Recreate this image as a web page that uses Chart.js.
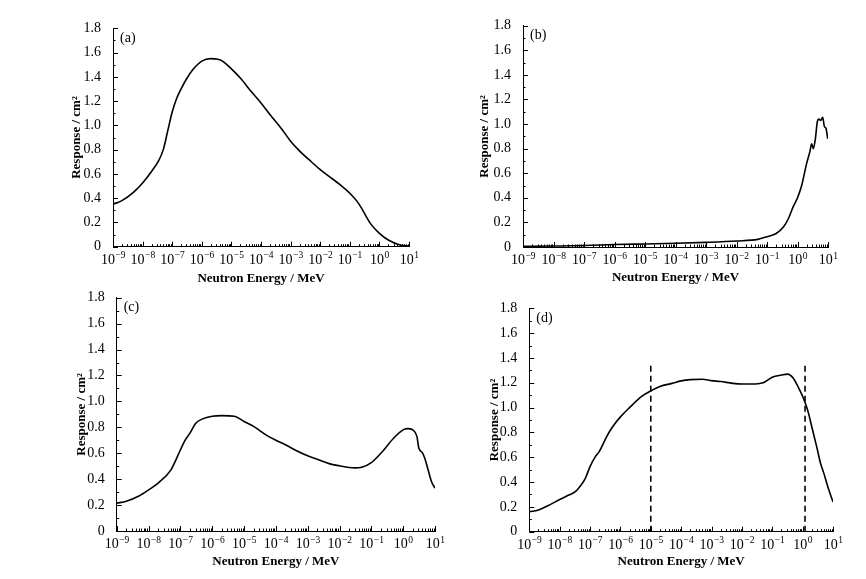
<!DOCTYPE html>
<html>
<head>
<meta charset="utf-8">
<script src="https://cdn.jsdelivr.net/npm/chart.js@4.4.1/dist/chart.umd.min.js"></script>
<style>
  html, body { margin: 0; padding: 0; background: #fff; }
  body { width: 866px; height: 579px; position: relative; overflow: hidden; }
  canvas { position: absolute; }
</style>
</head>
<body>
<canvas id="chartA" width="440" height="290" style="left:0;top:0"></canvas>
<canvas id="chartB" width="421" height="290" style="left:445px;top:0"></canvas>
<canvas id="chartC" width="445" height="294" style="left:0;top:285px"></canvas>
<canvas id="chartD" width="421" height="294" style="left:445px;top:285px"></canvas>
<script>
/* axis ticks */
const decades = [1e-9, 1e-8, 1e-7, 1e-6, 1e-5, 1e-4, 1e-3, 1e-2, 1e-1, 1, 10];
const decadeExps = ["\u22129", "\u22128", "\u22127", "\u22126", "\u22125", "\u22124", "\u22123", "\u22122", "\u22121", "0", "1"];
const yTickValues = [0, 0.2, 0.4, 0.6, 0.8, 1.0, 1.2, 1.4, 1.6, 1.8];
const yTickLabels = ["0", "0.2", "0.4", "0.6", "0.8", "1.0", "1.2", "1.4", "1.6", "1.8"];

/* (a) */
const energyA = [1e-9, 2e-9, 5e-9, 1e-8, 2e-8, 3.5e-8, 5e-8, 7e-8, 1e-7, 1.4e-7, 2e-7, 3e-7, 5e-7,
  1e-6, 2e-6, 3.5e-6, 5e-6, 1e-5, 2e-5, 5e-5, 1e-4, 2e-4, 5e-4, 1e-3, 2e-3, 5e-3,
  1e-2, 2e-2, 5e-2, 1e-1, 2e-1, 5e-1, 1, 2, 5, 10];
const responseA = [0.35, 0.38, 0.45, 0.525, 0.62, 0.71, 0.80, 0.95, 1.11, 1.22, 1.30, 1.38, 1.46,
  1.53, 1.55, 1.545, 1.53, 1.465, 1.39, 1.27, 1.185, 1.09, 0.97, 0.87, 0.79, 0.70,
  0.635, 0.58, 0.505, 0.44, 0.355, 0.19, 0.11, 0.055, 0.014, 0.005];

/* (b) */
const energyB = [1e-9, 1e-8, 1e-7, 1e-6, 1e-5, 1e-4, 1e-3, 1e-2, 5e-2, 1e-1, 2e-1, 3.5e-1, 5e-1, 7.3e-1,
  1, 1.37, 1.95, 2.57, 2.9, 3.3, 3.85, 4.47, 5, 5.75, 6.7, 7.6, 8.6, 9.8];
const responseB = [0.005, 0.008, 0.012, 0.02, 0.025, 0.03, 0.038, 0.049, 0.062, 0.084, 0.11, 0.165, 0.23, 0.33,
  0.40, 0.50, 0.67, 0.78, 0.84, 0.80, 0.88, 1.02, 1.04, 1.03, 1.055, 0.98, 0.965, 0.88];

/* (c) */
const energyC = [1e-9, 2e-9, 5e-9, 1e-8, 2e-8, 5e-8, 1e-7, 1.4e-7, 2e-7, 3e-7, 5e-7,
  1e-6, 2e-6, 5e-6, 1e-5, 2e-5, 5e-5, 1e-4, 2e-4, 5e-4, 1e-3, 2e-3, 5e-3,
  1e-2, 2e-2, 3e-2, 5e-2, 1e-1, 2e-1, 5e-1, 1, 1.4, 2, 2.7, 3.1, 4, 4.8, 6.1, 7.8, 10];
const responseC = [0.214, 0.23, 0.27, 0.317, 0.37, 0.47, 0.625, 0.70, 0.755, 0.83, 0.865,
  0.885, 0.89, 0.885, 0.845, 0.807, 0.74, 0.70, 0.665, 0.613, 0.58, 0.554, 0.518,
  0.503, 0.49, 0.487, 0.492, 0.528, 0.60, 0.716, 0.78, 0.79, 0.78, 0.73, 0.64, 0.605, 0.56, 0.47, 0.38, 0.33];

/* (d) */
const energyD = [1e-9, 2e-9, 5e-9, 1e-8, 2e-8, 3.2e-8, 5e-8, 7e-8, 1e-7, 1.5e-7, 2e-7, 3.5e-7, 5e-7,
  1e-6, 2e-6, 5e-6, 1e-5, 2e-5, 5e-5, 1e-4, 2e-4, 5e-4, 1e-3, 2e-3, 5e-3,
  1e-2, 2e-2, 5e-2, 1e-1, 2e-1, 3.2e-1, 5e-1, 7e-1, 1, 1.46, 2, 2.9, 3.9, 5, 7, 10];
const responseD = [0.16, 0.175, 0.22, 0.26, 0.295, 0.32, 0.375, 0.43, 0.525, 0.605, 0.645, 0.765, 0.83,
  0.925, 1.0, 1.09, 1.135, 1.17, 1.195, 1.215, 1.225, 1.228, 1.217, 1.21, 1.195,
  1.19, 1.19, 1.20, 1.245, 1.262, 1.27, 1.235, 1.17, 1.09, 0.98, 0.846, 0.685, 0.55, 0.47, 0.35, 0.24];
const markerEnergyD = [1e-5, 1.2];
const markerRangeD = [0, 1.34];

const FONT = "'Liberation Serif', 'Times New Roman', serif";
const minorSteps = [2, 3, 4, 5, 6, 7, 8, 9];

function toPoints(xs, ys) {
  return xs.map((x, i) => ({ x, y: ys[i] }));
}

/* ticks inward + x labels as 10^n + panel letter */
const frame = {
  id: "frame",
  afterDraw(chart) {
    const { ctx, chartArea: a, scales: { x, y } } = chart;
    ctx.save();
    ctx.strokeStyle = "#000";
    ctx.lineWidth = 1;
    ctx.beginPath();
    decades.forEach((d, k) => {
      const px = Math.round(x.getPixelForValue(d)) + 0.5;
      ctx.moveTo(px, a.bottom);
      ctx.lineTo(px, a.bottom - 5);
      if (k < decades.length - 1) {
        minorSteps.forEach(m => {
          const mx = Math.round(x.getPixelForValue(d * m)) + 0.5;
          ctx.moveTo(mx, a.bottom);
          ctx.lineTo(mx, a.bottom - 2.5);
        });
      }
    });
    yTickValues.forEach((v, k) => {
      const py = Math.round(y.getPixelForValue(v)) + 0.5;
      ctx.moveTo(a.left, py);
      ctx.lineTo(a.left + 5, py);
      if (k < yTickValues.length - 1) {
        const my = Math.round(y.getPixelForValue(v + 0.1)) + 0.5;
        ctx.moveTo(a.left, my);
        ctx.lineTo(a.left + 2.5, my);
      }
    });
    ctx.stroke();

    ctx.fillStyle = "#000";
    ctx.textAlign = "left";
    ctx.textBaseline = "alphabetic";
    decades.forEach((d, k) => {
      const px = x.getPixelForValue(d);
      ctx.font = "14px " + FONT;
      const wBase = ctx.measureText("10").width;
      ctx.font = "9.5px " + FONT;
      const wExp = ctx.measureText(decadeExps[k]).width;
      const x0 = px - (wBase + wExp) / 2;
      const base = a.bottom + 17;
      ctx.font = "14px " + FONT;
      ctx.fillText("10", x0, base);
      ctx.font = "9.5px " + FONT;
      ctx.fillText(decadeExps[k], x0 + wBase + 0.5, base - 5.5);
    });

    ctx.font = "14px " + FONT;
    ctx.textBaseline = "middle";
    ctx.fillText(chart.options.plugins.frame.label, a.left + 7, a.top + 10);
    ctx.restore();
  }
};

function makePanel(id, label, datasets, box) {
  return new Chart(document.getElementById(id), {
    type: "line",
    data: { datasets },
    options: {
      responsive: false,
      animation: false,
      layout: { padding: { left: 0, right: box.right, top: box.top, bottom: 0 } },
      plugins: {
        legend: { display: false },
        tooltip: { enabled: false },
        frame: { label }
      },
      elements: { point: { radius: 0 } },
      scales: {
        x: {
          type: "logarithmic",
          min: 1e-9,
          max: 10,
          afterBuildTicks: s => { s.ticks = decades.map(v => ({ value: v })); },
          afterFit: s => { s.height = box.xHeight; },
          ticks: { display: false },
          grid: { display: false },
          border: { display: true, color: "#000", width: 1 },
          title: {
            display: true,
            text: "Neutron Energy / MeV",
            color: "#000",
            font: { family: FONT, size: 13, weight: "bold" },
            padding: { top: 0, bottom: box.xTitlePad }
          }
        },
        y: {
          type: "linear",
          min: 0,
          max: 1.8,
          afterBuildTicks: s => { s.ticks = yTickValues.map(v => ({ value: v })); },
          afterFit: s => { s.width = box.yWidth; },
          ticks: {
            color: "#000",
            padding: 4,
            font: { family: FONT, size: 14 },
            callback: (v, i) => yTickLabels[i]
          },
          grid: { display: false },
          border: { display: true, color: "#000", width: 1 },
          title: {
            display: true,
            text: "Response / cm\u00b2",
            color: "#000",
            font: { family: FONT, size: 13, weight: "bold" },
            padding: { top: box.yTitlePad, bottom: 0 }
          }
        }
      }
    },
    plugins: [frame]
  });
}

function curve(xs, ys) {
  return {
    data: toPoints(xs, ys),
    borderColor: "#000",
    borderWidth: 1.6,
    fill: false,
    cubicInterpolationMode: "monotone"
  };
}

function marker(e) {
  return {
    data: markerRangeD.map(v => ({ x: e, y: v })),
    borderColor: "#000",
    borderWidth: 1.6,
    borderDash: [6, 4],
    fill: false
  };
}

makePanel("chartA", "(a)", [curve(energyA, responseA)],
  { right: 31, top: 28.3, yWidth: 113, xHeight: 43.3, yTitlePad: 69, xTitlePad: 4 });
makePanel("chartB", "(b)", [curve(energyB, responseB)],
  { right: 38, top: 25.7, yWidth: 78, xHeight: 43, yTitlePad: 32, xTitlePad: 5 });
makePanel("chartC", "(c)", [curve(energyC, responseC)],
  { right: 10, top: 12.7, yWidth: 116.7, xHeight: 48, yTitlePad: 74, xTitlePad: 9.5 });
makePanel("chartD", "(d)",
  [curve(energyD, responseD), marker(markerEnergyD[0]), marker(markerEnergyD[1])],
  { right: 33, top: 23.3, yWidth: 84.3, xHeight: 47.3, yTitlePad: 42, xTitlePad: 9.5 });
</script>
</body>
</html>
